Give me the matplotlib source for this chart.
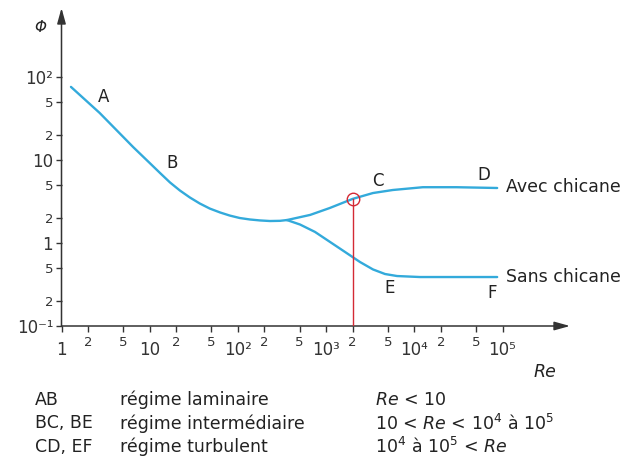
import matplotlib
matplotlib.use('Agg')
import matplotlib.pyplot as plt
import numpy as np

# courbe commune AB puis branches
re_ab = [1.28, 2.7, 6.5, 10, 13.1, 17, 22, 28.6, 37, 48, 63, 81, 105, 137, 178, 231, 300, 360]
phi_ab = [76, 37, 14.3, 9.2, 6.97, 5.36, 4.29, 3.53, 2.99, 2.60, 2.33, 2.14, 2.00, 1.92, 1.87, 1.84, 1.85, 1.89]

re_avec = [360, 660, 1100, 2000, 3400, 5700, 12500, 30000, 87000]
phi_avec = [1.89, 2.18, 2.64, 3.4, 4.0, 4.35, 4.7, 4.7, 4.6]

re_sans = [360, 506, 748, 1107, 1638, 2424, 3404, 4656, 6370, 11620, 33000, 87000]
phi_sans = [1.89, 1.67, 1.36, 1.03, 0.78, 0.59, 0.48, 0.423, 0.40, 0.389, 0.389, 0.389]

re_crit = 2000
phi_crit = 10**np.interp(np.log10(re_crit), np.log10(re_avec), np.log10(phi_avec))

# ticks
x_major = [1, 10, 1e2, 1e3, 1e4, 1e5]
x_major_lab = ['1', '10', '10²', '10³', '10⁴', '10⁵']
x_minor = [2, 5, 20, 50, 200, 500, 2e3, 5e3, 2e4, 5e4]
x_minor_lab = ['2', '5'] * 5
y_major = [0.1, 1, 10, 100]
y_major_lab = ['10⁻¹', '1', '10', '10²']
y_minor = [0.2, 0.5, 2, 5, 20, 50]
y_minor_lab = ['2', '5'] * 3

table_rows = [
    ('AB', 'régime laminaire', r'$\mathit{Re}$ < 10'),
    ('BC, BE', 'régime intermédiaire', r'10 < $\mathit{Re}$ < 10$^4$ à 10$^5$'),
    ('CD, EF', 'régime turbulent', r'10$^4$ à 10$^5$ < $\mathit{Re}$'),
]

W, H = 627, 466
blue = '#33aadb'
red = '#d42a35'
dark = '#333333'

fig = plt.figure(figsize=(W / 100, H / 100), dpi=100)
ax = fig.add_axes([61.5 / W, 140 / H, (570 - 61.5) / W, (326 - 8) / H])
ax.set_xscale('log')
ax.set_yscale('log')
ax.set_xlim(1, 10**((570 - 61.5) / 88.2))
ax.set_ylim(0.1, 10**(-1 + (326 - 8) / 83))

for s in ax.spines.values():
    s.set_visible(False)

arrow = dict(arrowstyle='-|>,head_length=0.47,head_width=0.13', color=dark,
             lw=1.1, shrinkA=0, shrinkB=0, mutation_scale=20)
ax.annotate('', xy=(1, 0), xytext=(0, 0), xycoords='axes fraction', arrowprops=arrow)
ax.annotate('', xy=(0, 1), xytext=(0, 0), xycoords='axes fraction', arrowprops=arrow)

style = dict(color=blue, lw=1.7, solid_capstyle='round', solid_joinstyle='round')
ax.plot(re_ab, phi_ab, **style)
ax.plot(re_avec, phi_avec, **style)
ax.plot(re_sans, phi_sans, **style)

ax.plot([re_crit, re_crit], [0.1, phi_crit], color=red, lw=1.0, zorder=4)
ax.plot(re_crit, phi_crit, 'o', ms=9, mfc='none', mec=red, mew=1.0, zorder=5)

ax.set_xticks(x_major, x_major_lab)
ax.set_xticks(x_minor, x_minor_lab, minor=True)
ax.set_yticks(y_major, y_major_lab)
ax.set_yticks(y_minor, y_minor_lab, minor=True)
ax.tick_params(axis='x', which='major', length=4, width=1, color=dark, labelsize=12, pad=6.5, labelcolor=dark)
ax.tick_params(axis='x', which='minor', length=4, width=1, color=dark, labelsize=9.5, pad=3.3, labelcolor=dark)
ax.tick_params(axis='y', which='major', length=4, width=1, color=dark, labelsize=12, pad=2, labelcolor=dark)
ax.tick_params(axis='y', which='minor', length=4, width=1, color=dark, labelsize=9.5, pad=2, labelcolor=dark)

lab = dict(fontsize=12, color='#222222', ha='center', va='center')
ax.text(3.0, 57, 'A', **lab)
ax.text(18, 9.2, 'B', **lab)
ax.text(3900, 5.6, 'C', **lab)
ax.text(62000, 6.6, 'D', **lab)
ax.text(5300, 0.29, 'E', **lab)
ax.text(76000, 0.25, 'F', **lab)
ax.text(1.1e5, 4.7, 'Avec chicane', fontsize=12.5, color='#222222', ha='left', va='center')
ax.text(1.1e5, 0.39, 'Sans chicane', fontsize=12.5, color='#222222', ha='left', va='center')

fig.text(40 / W, 1 - 27 / H, 'Φ', fontsize=11, style='italic', color='#222222', ha='center', va='center')
fig.text(545 / W, 1 - 372 / H, 'Re', fontsize=12.5, style='italic', color='#222222', ha='center', va='center')

row_y = [400, 423.5, 447]
for (a, b, c), yy in zip(table_rows, row_y):
    fig.text(35 / W, 1 - yy / H, a, fontsize=12.5, color='#222222', va='center')
    fig.text(120 / W, 1 - yy / H, b, fontsize=12.5, color='#222222', va='center')
    fig.text(375 / W, 1 - yy / H, c, fontsize=12.5, color='#222222', va='center')

fig.savefig('out.png', dpi=100)
